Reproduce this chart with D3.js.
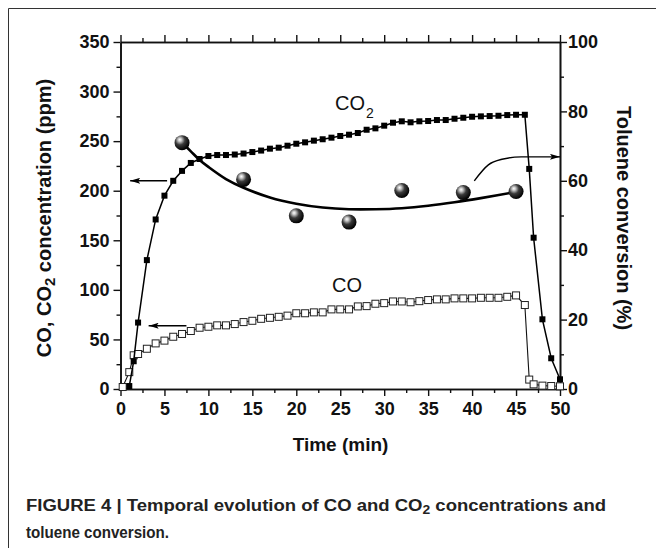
<!DOCTYPE html>
<html><head><meta charset="utf-8">
<script src="https://cdn.jsdelivr.net/npm/d3@7/dist/d3.min.js"></script>
<style>
html,body{margin:0;padding:0;background:#fff;}
svg{display:block;}
text{font-family:"Liberation Sans",Arial,Helvetica,sans-serif;}
</style></head>
<body><svg id="chart" width="656" height="548"></svg>
<script>
// ---- data ----
const co2Time = [1,1.5,2,3,4,5,6,7,8,9,10,11,12,13,14,15,16,17,18,19,20,21,22,23,24,25,26,27,28,29,30,31,32,33,34,35,36,37,38,39,40,41,42,43,44,45,46,46.5,47,48,49,50];
const co2Ppm  = [3,28,67,130,171,195,210,220,228,232,235,236,236,236.5,237.5,239,240.5,242.4,243.4,245.4,247.4,248.8,250.5,251.9,253.5,255.2,256.5,258.2,261.5,262.9,265.6,268.6,270,269,270,270.3,271.3,271.3,272.6,273.6,274.6,275,275.3,275.6,276.3,276.6,276.6,222,152.6,70.3,31,9.8];
const coTime  = [0.25,1,1.5,2,3,4,5,6,7,8,9,10,11,12,13,14,15,16,17,18,19,20,21,22,23,24,25,26,27,28,29,30,31,32,33,34,35,36,37,38,39,40,41,42,43,44,45,46,46.5,47,48,49,50];
const coPpm   = [2,17,34,35.3,40.6,46,48.8,52.7,55.5,58.5,61.8,62.8,64.2,64.2,65.5,67.5,68.8,70.8,71.8,72.8,74,76.4,76.4,77.3,77.3,80.3,80.3,80.3,83.3,83.6,86,86.6,88.3,88.3,87.5,88.6,89.7,90.4,90.4,91.4,91.4,91.4,92,92,92,93,94.4,84.7,9.5,4.7,3.4,3,2.7];
const convTime = [7,14,20,26,32,39,45];
const convPct  = [71,60.4,49.9,48.1,57.2,56.6,56.9];
const fitTime  = [7,8,9,10,12,14,17,20,23,26,29,32,35,38,41,45];
const fitPct   = [71,68.5,66,64,60.5,58,55.2,53.4,52.3,51.8,51.8,52.1,52.8,53.8,55,56.8];
const xTicks = [0,5,10,15,20,25,30,35,40,45,50];
const yLeftTicks = [0,50,100,150,200,250,300,350];
const yRightTicks = [0,20,40,60,80,100];
// annotation arrows in data units
const arrowCO2 = [[5.3,210],[1.1,210]];
const arrowCO  = [[7.5,63.8],[3.2,63.8]];
const arrowConv = [[40.25,60.0],[41.85,64.6],[43.4,66.2],[45.6,66.9],[50,66.9]];

// ---- scales ----
const svg = d3.select("#chart");
const x  = d3.scaleLinear().domain([0,50]).range([120.5,560]);
const yL = d3.scaleLinear().domain([0,350]).range([389,42]);
const yR = d3.scaleLinear().domain([0,100]).range([389,42]);

// frame
svg.append("line").attr("x1",8.5).attr("y1",8.5).attr("x2",8.5).attr("y2",548).attr("stroke","#333").attr("stroke-width",1);
svg.append("line").attr("x1",8.5).attr("y1",8.5).attr("x2",656).attr("y2",8.5).attr("stroke","#333").attr("stroke-width",1);

const defs = svg.append("defs");
const grad = defs.append("radialGradient").attr("id","ball").attr("cx","38%").attr("cy","35%").attr("r","65%").attr("fx","35%").attr("fy","30%");
grad.append("stop").attr("offset","0%").attr("stop-color","#ffffff");
grad.append("stop").attr("offset","18%").attr("stop-color","#c8c8c8");
grad.append("stop").attr("offset","50%").attr("stop-color","#3a3a3a");
grad.append("stop").attr("offset","100%").attr("stop-color","#000000");
defs.append("marker").attr("id","arr").attr("viewBox","0 0 10 6").attr("refX",10).attr("refY",3)
  .attr("markerWidth",10).attr("markerHeight",6).attr("markerUnits","userSpaceOnUse").attr("orient","auto")
  .append("path").attr("d","M0,0 L10,3 L0,6 L2,3 Z").attr("fill","#000");

// ---- axes ----
const minorX = d3.range(2.5,50,5);
const minorL = d3.range(25,350,50);
const minorR = d3.range(10,100,20);
function styleAxis(g){
  g.selectAll("path.domain").attr("stroke","#111").attr("stroke-width",1.6);
  g.selectAll(".tick line").attr("stroke","#111").attr("stroke-width",1.4);
  g.selectAll("text").attr("font-size",18).attr("font-weight","bold").attr("fill","#111")
    .style("font-family","'Liberation Sans',Arial,sans-serif");
}
const gB = svg.append("g").attr("transform",`translate(0,389)`)
  .call(d3.axisBottom(x).tickValues(xTicks).tickSize(7).tickSizeOuter(0).tickPadding(6)).call(styleAxis);
svg.append("g").attr("transform",`translate(0,389)`)
  .call(d3.axisBottom(x).tickValues(minorX).tickSize(4).tickSizeOuter(0).tickFormat("")).call(styleAxis);
svg.append("g").attr("transform",`translate(0,42)`)
  .call(d3.axisTop(x).tickValues(xTicks).tickSize(7).tickSizeOuter(0).tickFormat("")).call(styleAxis);
svg.append("g").attr("transform",`translate(0,42)`)
  .call(d3.axisTop(x).tickValues(minorX).tickSize(4).tickSizeOuter(0).tickFormat("")).call(styleAxis);
svg.append("g").attr("transform",`translate(120.5,0)`)
  .call(d3.axisLeft(yL).tickValues(yLeftTicks).tickSize(7).tickSizeOuter(0).tickPadding(4)).call(styleAxis);
svg.append("g").attr("transform",`translate(120.5,0)`)
  .call(d3.axisLeft(yL).tickValues(minorL).tickSize(4).tickSizeOuter(0).tickFormat("")).call(styleAxis);
svg.append("g").attr("transform",`translate(560,0)`)
  .call(d3.axisRight(yR).tickValues(yRightTicks).tickSize(7).tickSizeOuter(0).tickPadding(1)).call(styleAxis);
svg.append("g").attr("transform",`translate(560,0)`)
  .call(d3.axisRight(yR).tickValues(minorR).tickSize(4).tickSizeOuter(0).tickFormat("")).call(styleAxis);

// axis titles
svg.append("text").attr("x",340.5).attr("y",451).attr("text-anchor","middle")
  .attr("font-size",19).attr("font-weight","bold").attr("fill","#111").text("Time (min)");
const lt = svg.append("text").attr("transform","translate(51,218) rotate(-90)").attr("text-anchor","middle")
  .attr("font-size",20).attr("font-weight","bold").attr("fill","#111");
lt.append("tspan").text("CO, CO");
lt.append("tspan").attr("font-size",15).attr("dy",4).text("2");
lt.append("tspan").attr("dy",-4).text(" concentration (ppm)");
svg.append("text").attr("transform","translate(617,218) rotate(90)").attr("text-anchor","middle")
  .attr("font-size",20).attr("font-weight","bold").attr("fill","#111").text("Toluene conversion (%)");

// ---- series ----
const co = coTime.map((t,i)=>[t,coPpm[i]]);
const co2 = co2Time.map((t,i)=>[t,co2Ppm[i]]);
const conv = convTime.map((t,i)=>[t,convPct[i]]);
const fit = fitTime.map((t,i)=>[t,fitPct[i]]);

const lineL = d3.line().x(d=>x(d[0])).y(d=>yL(d[1]));
const lineR = d3.line().x(d=>x(d[0])).y(d=>yR(d[1]));

svg.append("path").attr("d",lineL(co)).attr("fill","none").attr("stroke","#111").attr("stroke-width",1.1);
svg.append("g").selectAll("rect").data(co).join("rect")
  .attr("x",d=>x(d[0])-3.5).attr("y",d=>yL(d[1])-3.5).attr("width",7).attr("height",7)
  .attr("fill","#fff").attr("stroke","#222").attr("stroke-width",1);

svg.append("path").attr("d",lineL(co2)).attr("fill","none").attr("stroke","#000").attr("stroke-width",1.5);
svg.append("g").selectAll("rect").data(co2).join("rect")
  .attr("x",d=>x(d[0])-3).attr("y",d=>yL(d[1])-3).attr("width",6).attr("height",6).attr("fill","#000");

svg.append("path").attr("d",lineR.curve(d3.curveCatmullRom)(fit)).attr("fill","none").attr("stroke","#000").attr("stroke-width",2.6);

svg.append("g").selectAll("circle").data(conv).join("circle")
  .attr("cx",d=>x(d[0])).attr("cy",d=>yR(d[1])).attr("r",7.5).attr("fill","url(#ball)");

// arrows
const lineA = d3.line().x(d=>x(d[0])).y(d=>yL(d[1]));
svg.append("path").attr("d",lineA(arrowCO2)).attr("stroke","#000").attr("stroke-width",1.6).attr("fill","none").attr("marker-end","url(#arr)");
svg.append("path").attr("d",lineA(arrowCO)).attr("stroke","#000").attr("stroke-width",1.6).attr("fill","none").attr("marker-end","url(#arr)");
const lineC = d3.line().x(d=>x(d[0])).y(d=>yR(d[1])).curve(d3.curveMonotoneX);
svg.append("path").attr("d",lineC(arrowConv)).attr("stroke","#000").attr("stroke-width",1.4).attr("fill","none").attr("marker-end","url(#arr)");

// series labels
const l1 = svg.append("text").attr("x",x(24.4)).attr("y",yL(281.4)).attr("font-size",20).attr("fill","#111");
l1.append("tspan").text("CO");
l1.append("tspan").attr("font-size",14).attr("dy",8).attr("dx",1).text("2");
svg.append("text").attr("x",x(24.06)).attr("y",yL(97.8)).attr("font-size",20).attr("fill","#111").text("CO");

// caption
const c1 = svg.append("text").attr("x",26).attr("y",511).attr("font-size",16).attr("font-weight","bold").attr("fill","#222")
  .attr("textLength",580).attr("lengthAdjust","spacingAndGlyphs");
c1.append("tspan").text("FIGURE 4 | Temporal evolution of CO and CO");
c1.append("tspan").attr("font-size",12).attr("dy",3).text("2");
c1.append("tspan").attr("dy",-3).text(" concentrations and");
svg.append("text").attr("x",26).attr("y",538).attr("font-size",16).attr("font-weight","bold").attr("fill","#222")
  .attr("textLength",143).attr("lengthAdjust","spacingAndGlyphs").text("toluene conversion.");
</script></body></html>
